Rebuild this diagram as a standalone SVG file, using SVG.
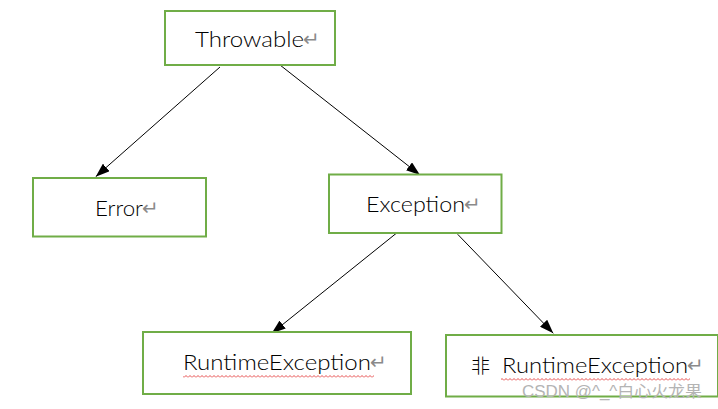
<svg xmlns="http://www.w3.org/2000/svg" width="718" height="409" viewBox="0 0 718 409">
<style>
.box{fill:#fff;stroke:#70AD47;stroke-width:2}
.lbl{font-family:"Lato","Liberation Sans",sans-serif;font-size:22px;font-weight:300;fill:#000}
.ret{font-family:"DejaVu Sans",sans-serif;font-size:20px;fill:#8a8a8a}
.edge{stroke:#000;stroke-width:1;fill:none;marker-end:url(#ah)}
.wm{font-family:"Liberation Sans","Noto Sans CJK SC",sans-serif;font-size:16px;fill:#b4b4b4}
</style>
<defs>
<marker id="ah" viewBox="0 0 14 10" refX="14" refY="5" markerWidth="14" markerHeight="10" markerUnits="userSpaceOnUse" orient="auto">
<path d="M0 0 L14 5 L0 10 Z" fill="#000"/>
</marker>
<pattern id="wave" patternUnits="userSpaceOnUse" width="4" height="3">
<path d="M0 2.5 L2 0.5 L4 2.5" stroke="#e02020" stroke-width="0.8" fill="none"/>
</pattern>
</defs>
<rect width="718" height="409" fill="#fff"/>
<g id="connectors">
<line class="edge" x1="220" y1="67" x2="95.7" y2="176.7"/>
<line class="edge" x1="280" y1="65" x2="420" y2="175"/>
<line class="edge" x1="398.3" y1="231.7" x2="271.7" y2="333.3"/>
<line class="edge" x1="457.7" y1="234.3" x2="553.3" y2="333.3"/>
</g>
<g id="throwable">
<rect class="box" x="165" y="11" width="170" height="54"/>
<text class="lbl" x="195" y="47" textLength="109" lengthAdjust="spacingAndGlyphs">Throwable</text>
<text class="ret" x="303" y="46">↵</text>
</g>
<g id="error">
<rect class="box" x="33" y="178" width="173" height="58.5"/>
<text class="lbl" x="95" y="216" textLength="48" lengthAdjust="spacingAndGlyphs">Error</text>
<text class="ret" x="142" y="215">↵</text>
</g>
<g id="exception">
<rect class="box" x="329" y="174.5" width="172.5" height="58.5"/>
<text class="lbl" x="366" y="212" textLength="99" lengthAdjust="spacingAndGlyphs">Exception</text>
<text class="ret" x="464" y="211">↵</text>
</g>
<g id="runtime">
<rect class="box" x="143" y="332" width="268" height="62"/>
<text class="lbl" x="183" y="370" textLength="188" lengthAdjust="spacingAndGlyphs">RuntimeException</text>
<text class="ret" x="370" y="369">↵</text>
<rect x="183" y="375" width="191" height="3" fill="url(#wave)"/>
</g>
<g id="non-runtime">
<rect class="box" x="446" y="335" width="272" height="61.5"/>
<text class="lbl" x="471" y="373" style="font-family:'Noto Sans CJK SC',sans-serif;font-size:19px">非</text>
<text class="lbl" x="502" y="373" textLength="186" lengthAdjust="spacingAndGlyphs">RuntimeException</text>
<text class="ret" x="687" y="372">↵</text>
<rect x="501" y="378" width="189" height="3" fill="url(#wave)"/>
</g>
<text class="wm" x="522" y="397" textLength="180" lengthAdjust="spacingAndGlyphs">CSDN @^_^白心火龙果</text>
</svg>
